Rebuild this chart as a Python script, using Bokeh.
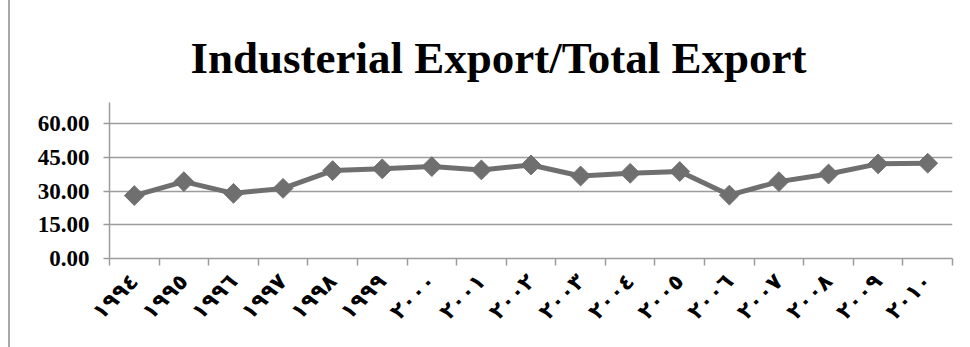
from math import pi
from bokeh.plotting import figure
from bokeh.models import FixedTicker, Range1d, PrintfTickFormatter
from bokeh.embed import file_html
from bokeh.resources import INLINE

years = ["١٩٩٤", "١٩٩٥", "١٩٩٦", "١٩٩٧", "١٩٩٨", "١٩٩٩", "٢٠٠٠", "٢٠٠١", "٢٠٠٢",
         "٢٠٠٣", "٢٠٠٤", "٢٠٠٥", "٢٠٠٦", "٢٠٠٧", "٢٠٠٨", "٢٠٠٩", "٢٠١٠"]
values = [28.0, 34.2, 29.0, 31.2, 39.1, 39.9, 40.9, 39.4, 41.6,
          36.7, 37.9, 38.7, 28.2, 34.2, 37.6, 42.1, 42.4]
y_ticks = [0, 15, 30, 45, 60]

n = len(years)
xs = [i + 0.5 for i in range(n)]

GREY = "#6f6f6f"
GRID = "#9c9c9c"

p = figure(width=960, height=347, output_backend="svg", toolbar_location=None,
           x_range=Range1d(0, n), y_range=Range1d(0, 69.4),
           min_border_left=99, min_border_right=18, min_border_top=102, min_border_bottom=89,
           title="Industerial Export/Total Export")
p.styles = {"margin-left": "8px", "border-left": "2px solid #a8a8a8"}

p.title.align = "left"
p.title.offset = 81
p.title.text_font = "Liberation Serif"
p.title.text_font_style = "bold"
p.title.text_font_size = "45px"
p.title.text_line_height = 0.7
p.title.text_color = "black"
p.title.standoff = 40

p.outline_line_color = None
p.background_fill_color = "white"
p.border_fill_color = "white"

p.xgrid.visible = False
p.ygrid.ticker = FixedTicker(ticks=y_ticks)
p.ygrid.grid_line_color = GRID
p.ygrid.grid_line_width = 1.5

xa = p.xaxis[0]
xa.ticker = FixedTicker(ticks=xs, minor_ticks=list(range(n + 1)))
xa.major_label_overrides = {x: y for x, y in zip(xs, years)}
xa.major_tick_out = 0
xa.major_tick_in = 0
xa.minor_tick_out = 7
xa.minor_tick_in = 0
xa.minor_tick_line_color = GRID
xa.minor_tick_line_width = 1.5
xa.axis_line_color = GRID
xa.axis_line_width = 1.5
xa.major_label_orientation = pi / 4
xa.major_label_text_font = "DejaVu Sans"
xa.major_label_text_font_style = "bold"
xa.major_label_text_font_size = "22px"
xa.major_label_text_color = "black"
xa.major_label_standoff = 12

ya = p.yaxis[0]
ya.ticker = FixedTicker(ticks=y_ticks)
ya.formatter = PrintfTickFormatter(format="%.2f")
ya.major_tick_out = 6
ya.major_tick_in = 0
ya.minor_tick_out = 0
ya.minor_tick_in = 0
ya.major_tick_line_color = GRID
ya.major_tick_line_width = 1.5
ya.axis_line_color = GRID
ya.axis_line_width = 1.5
ya.major_label_text_font = "Liberation Serif"
ya.major_label_text_font_style = "bold"
ya.major_label_text_font_size = "23px"
ya.major_label_text_color = "black"
ya.major_label_standoff = 14

p.line(xs, values, line_width=5, line_color=GREY, line_join="round")
p.scatter(xs, values, marker="square", angle=pi / 4, size=14,
          fill_color=GREY, line_color=GREY)

open("out.html", "w").write(file_html(p, INLINE))
